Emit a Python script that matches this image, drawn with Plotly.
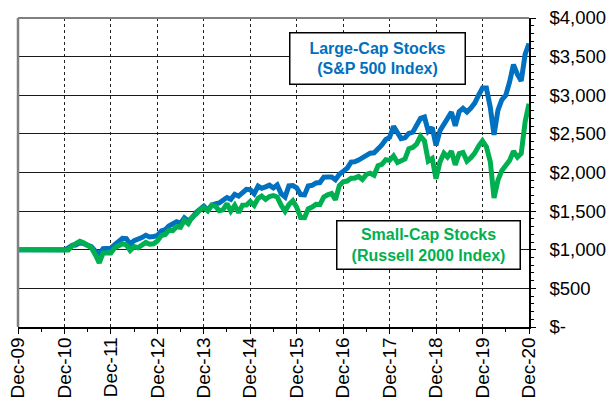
import plotly.graph_objects as go
import pandas as pd

# Monthly dates from Dec-09 to Dec-20
months = pd.date_range("2009-12-01", "2020-12-01", freq="MS")

large_cap = [
    1000, 1000, 1000, 1000, 1000, 1000, 1000, 1000, 1000, 1000, 1000, 1000, 1000,
    1024, 1059, 1060, 1092, 1079, 1061, 1040, 983, 945, 1014, 1010, 1021,
    1067, 1112, 1149, 1143, 1073, 1117, 1133, 1157, 1188, 1166, 1171, 1182,
    1243, 1259, 1307, 1333, 1363, 1345, 1414, 1372, 1415, 1481, 1525, 1564,
    1511, 1578, 1592, 1605, 1641, 1676, 1653, 1718, 1694, 1737, 1782, 1778,
    1726, 1824, 1795, 1814, 1836, 1800, 1839, 1727, 1684, 1827, 1831, 1802,
    1714, 1710, 1826, 1834, 1865, 1870, 1940, 1941, 1942, 1907, 1976, 2015,
    2055, 2135, 2138, 2161, 2189, 2204, 2250, 2255, 2302, 2357, 2428, 2455,
    2598, 2501, 2438, 2449, 2506, 2523, 2618, 2702, 2718, 2534, 2583, 2350,
    2540, 2620, 2671, 2781, 2603, 2787, 2829, 2782, 2835, 2898, 3002, 3093,
    3093, 2838, 2487, 2808, 2940, 2999, 3169, 3397, 3270, 3185, 3533, 3670,
]

small_cap = [
    1000, 1000, 1000, 1000, 1000, 1000, 1000, 1000, 1000, 1000, 1000, 1000, 1000,
    998, 1053, 1080, 1109, 1090, 1063, 1025, 936, 831, 957, 953, 959,
    1027, 1052, 1078, 1062, 991, 1040, 1026, 1060, 1095, 1071, 1077, 1114,
    1185, 1198, 1252, 1248, 1298, 1291, 1382, 1338, 1423, 1460, 1518, 1547,
    1505, 1577, 1565, 1505, 1517, 1597, 1501, 1576, 1480, 1578, 1579, 1624,
    1573, 1666, 1695, 1652, 1690, 1702, 1683, 1577, 1499, 1584, 1635, 1552,
    1417, 1416, 1528, 1553, 1587, 1585, 1681, 1710, 1728, 1647, 1830, 1880,
    1889, 1926, 1927, 1949, 1909, 1975, 1991, 1965, 2087, 2106, 2166, 2157,
    2215, 2129, 2156, 2176, 2308, 2324, 2366, 2468, 2408, 2147, 2181, 1920,
    2138, 2249, 2200, 2276, 2099, 2246, 2260, 2148, 2192, 2251, 2343, 2409,
    2333, 2136, 1670, 1901, 2024, 2095, 2154, 2276, 2199, 2247, 2660, 2890,
]

x_tick_vals = ["2009-12-01", "2010-12-01", "2011-12-01", "2012-12-01", "2013-12-01",
               "2014-12-01", "2015-12-01", "2016-12-01", "2017-12-01", "2018-12-01",
               "2019-12-01", "2020-12-01"]
x_tick_text = ["Dec-09", "Dec-10", "Dec-11", "Dec-12", "Dec-13", "Dec-14",
               "Dec-15", "Dec-16", "Dec-17", "Dec-18", "Dec-19", "Dec-20"]
y_tick_vals = [0, 500, 1000, 1500, 2000, 2500, 3000, 3500, 4000]
y_tick_text = ["$-", "$500", "$1,000", "$1,500", "$2,000", "$2,500", "$3,000", "$3,500", "$4,000"]

BLUE = "#0070C0"
GREEN = "#00B050"
FONT = "Liberation Sans, Arial, sans-serif"

fig = go.Figure()
fig.add_trace(go.Scatter(x=months, y=large_cap, mode="lines",
                         line=dict(color=BLUE, width=5), name="Large-Cap Stocks"))
fig.add_trace(go.Scatter(x=months, y=small_cap, mode="lines",
                         line=dict(color=GREEN, width=5), name="Small-Cap Stocks"))

# page body has an 8px margin, so the figure is sized to fit the window
fig.update_layout(
    width=606, height=411,
    margin=dict(l=10, r=85, t=10, b=92),
    paper_bgcolor="white", plot_bgcolor="white",
    showlegend=False,
    font=dict(family=FONT, color="black"),
)

fig.update_xaxes(
    range=["2009-12-01", "2020-12-01"], automargin=False,
    tickmode="array", tickvals=x_tick_vals, ticktext=x_tick_text,
    tickangle=-90, tickfont=dict(size=19, family=FONT, color="black"),
    ticks="outside", ticklen=5, tickcolor="black", tickwidth=1,
    ticklabelstandoff=-4, ticklabeloverflow="allow",
    showgrid=True, gridcolor="#222222", gridwidth=1, griddash="dot",
    showline=True, linecolor="black", linewidth=1.5,
    minor=dict(dtick="M6", tick0="2009-12-01", ticks="outside", ticklen=3,
               tickcolor="black", showgrid=False),
    zeroline=False,
)

fig.update_yaxes(
    range=[0, 4000], side="right", automargin=False,
    tickmode="array", tickvals=y_tick_vals, ticktext=y_tick_text,
    tickfont=dict(size=18.5, family=FONT, color="black"),
    ticks="outside", ticklen=5, tickcolor="black", tickwidth=1,
    ticklabelstandoff=10, ticklabeloverflow="allow",
    showgrid=True, gridcolor="#1a1a1a", gridwidth=1,
    showline=True, linecolor="black", linewidth=1.5,
    minor=dict(dtick=100, ticks="outside", ticklen=3, tickcolor="black", showgrid=False),
    zeroline=False,
)

# gray left and top frame
fig.add_shape(type="line", xref="paper", yref="paper", x0=0, x1=0, y0=0, y1=1,
              line=dict(color="#808080", width=2.5))
fig.add_shape(type="line", xref="paper", yref="paper", x0=0, x1=1, y0=1, y1=1,
              line=dict(color="#808080", width=2))

fig.add_annotation(
    xref="paper", yref="paper", x=0.7045, y=0.869, xanchor="center", yanchor="middle",
    text="<b>Large-Cap Stocks<br>(S&P 500 Index)</b>", showarrow=False,
    font=dict(size=16, color=BLUE, family=FONT),
    bgcolor="white", bordercolor="black", borderwidth=1.5, borderpad=2,
    width=170, height=46, align="center",
)
fig.add_annotation(
    xref="paper", yref="paper", x=0.804, y=0.2638, xanchor="center", yanchor="middle",
    text="<b>Small-Cap Stocks<br>(Russell 2000 Index)</b>", showarrow=False,
    font=dict(size=16, color=GREEN, family=FONT),
    bgcolor="white", bordercolor="black", borderwidth=1.5, borderpad=2,
    width=178, height=43, align="center",
)

fig.write_html("out.html")
